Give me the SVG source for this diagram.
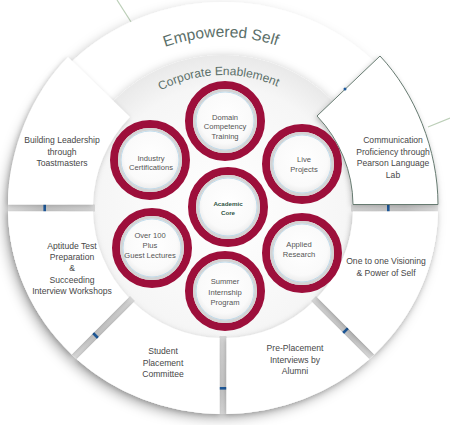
<svg xmlns="http://www.w3.org/2000/svg" xmlns:xlink="http://www.w3.org/1999/xlink" width="450" height="425" viewBox="0 0 450 425">
<style>
.seg{fill:#ffffff;filter:url(#segShadow)}
.segtxt{font-family:"Liberation Sans",Arial,sans-serif;font-size:8.6px;fill:#474747;text-anchor:middle}
.ctxt{font-family:"Liberation Sans",Arial,sans-serif;font-size:7.6px;fill:#555555;text-anchor:middle}
.ring{fill:none;stroke:#9d0f3b;stroke-width:8}
.disc{fill:url(#discGrad);stroke:#d3d3d3;stroke-width:2.6}
.blue{fill:none;stroke:#b4d6ea;stroke-width:0.8}
.gap{fill:url(#gapGrad)}
.mark{fill:#1e5a9c}
.arc{font-family:"Liberation Sans",Arial,sans-serif;fill:#5b6f69;text-anchor:middle}
</style>
<defs>
<filter id="bigShadow" x="-20%" y="-20%" width="140%" height="140%">
<feDropShadow dx="-4" dy="5" stdDeviation="6" flood-color="#000" flood-opacity="0.28"/>
</filter>
<filter id="segShadow" x="-20%" y="-20%" width="140%" height="140%">
<feDropShadow dx="-1" dy="1.5" stdDeviation="2.5" flood-color="#000" flood-opacity="0.22"/>
</filter>
<filter id="innerShadow" x="-20%" y="-20%" width="140%" height="140%">
<feDropShadow dx="0" dy="0" stdDeviation="4" flood-color="#000" flood-opacity="0.18"/>
</filter>
<radialGradient id="innerGrad" cx="0.5" cy="0.5" r="0.5">
<stop offset="0" stop-color="#ffffff"/>
<stop offset="0.8" stop-color="#f6f6f6"/>
<stop offset="1" stop-color="#e9e9e9"/>
</radialGradient>
<radialGradient id="discGrad" cx="0.5" cy="0.45" r="0.55">
<stop offset="0" stop-color="#ffffff"/>
<stop offset="0.75" stop-color="#fafafa"/>
<stop offset="1" stop-color="#e8e8e8"/>
</radialGradient>
<linearGradient id="gapGrad" x1="0" y1="0" x2="1" y2="0">
<stop offset="0" stop-color="#d6d6d6"/>
<stop offset="0.6" stop-color="#c6c6c6"/>
<stop offset="1" stop-color="#e2e2e2"/>
</linearGradient>
<clipPath id="outerClip">
<ellipse cx="223" cy="208" rx="215" ry="206"/>
</clipPath>
<path id="empArc" d="M 74.9,122.5 A 171 171 0 0 1 371.1,122.5"/>
<path id="corpArc" d="M 107.8,141.5 A 133 133 0 0 1 338.2,141.5"/>
</defs>

<rect x="0" y="0" width="450" height="425" fill="#ffffff"/>
<g id="background-lines" fill="none" stroke="#bccfb8" stroke-width="1.2">
<line x1="117" y1="0" x2="133" y2="25"/>
<line x1="428" y1="127" x2="450" y2="118"/>
</g>

<g id="outer-ring">
<ellipse cx="223" cy="208" rx="215" ry="206" fill="#ffffff" filter="url(#bigShadow)"/>
<text class="arc" font-size="15.5"><textPath xlink:href="#empArc" href="#empArc" startOffset="49.4%">Empowered Self</textPath></text>
</g>

<g id="corporate-enablement">
<circle cx="223" cy="208" r="153" fill="url(#innerGrad)" filter="url(#innerShadow)"/>
<text class="arc" font-size="12" fill="#5f7a73"><textPath xlink:href="#corpArc" href="#corpArc" startOffset="48.4%">Corporate Enablement</textPath></text>
</g>

<g id="connectors" clip-path="url(#outerClip)">
<g transform="translate(223,208) rotate(180)"><rect class="gap" x="128" y="-3.5" width="90" height="7"/><rect class="mark" x="177" y="-3.5" width="2.6" height="7"/></g>
<g transform="translate(223,208) rotate(135)"><rect class="gap" x="128" y="-3.5" width="90" height="7"/><rect class="mark" x="179" y="-3.5" width="2.6" height="7"/></g>
<g transform="translate(223,208) rotate(90)"><rect class="gap" x="128" y="-3.5" width="90" height="7"/><rect class="mark" x="179" y="-3.5" width="2.6" height="7"/></g>
<g transform="translate(223,208) rotate(45)"><rect class="gap" x="128" y="-3.5" width="90" height="7"/><rect class="mark" x="172" y="-3.5" width="2.6" height="7"/></g>
<g transform="translate(223,208) rotate(0)"><rect class="gap" x="128" y="-3.5" width="90" height="7"/><rect class="mark" x="164" y="-3.5" width="2.6" height="7"/></g>
</g>

<g id="seg-leadership">
<path class="seg" d="M 8,204.5 L 93,204.5 A 130 130 0 0 1 130,117 L 68,57 C 32,93 8,150 8,204.5 Z"/>
<text class="segtxt" x="62" y="143">Building  Leadership</text>
<text class="segtxt" x="62" y="154.5">through</text>
<text class="segtxt" x="62" y="166">Toastmasters</text>
</g>

<g id="seg-communication">
<path class="seg" d="M 438,204.5 L 353,204.5 A 130 130 0 0 0 317,116 L 380,56 C 415,93 438,150 438,204.5 Z" stroke="#667a70" stroke-width="1"/>
<circle cx="345" cy="89" r="1.5" fill="#1e5a9c"/>
<text class="segtxt" x="393" y="143">Communication</text>
<text class="segtxt" x="393" y="154.5">Proficiency through</text>
<text class="segtxt" x="393" y="166">Pearson Language</text>
<text class="segtxt" x="393" y="177.5">Lab</text>
</g>

<g id="seg-aptitude">
<path class="seg" d="M 8,211.5 L 93,211.5 A 130 130 0 0 0 128.6,297.5 L 71.8,354.2 A 215 206 0 0 1 8,211.5 Z"/>
<text class="segtxt" x="72" y="249">Aptitude Test</text>
<text class="segtxt" x="72" y="260">Preparation</text>
<text class="segtxt" x="72" y="271">&amp;</text>
<text class="segtxt" x="72" y="282.5">Succeeding</text>
<text class="segtxt" x="72" y="294">Interview Workshops</text>
</g>

<g id="seg-student">
<path class="seg" d="M 133.5,302.4 A 130 130 0 0 0 219.5,338 L 219.5,414 A 215 206 0 0 1 76.8,359.2 Z"/>
<text class="segtxt" x="163" y="354">Student</text>
<text class="segtxt" x="163" y="365.5">Placement</text>
<text class="segtxt" x="163" y="377">Committee</text>
</g>

<g id="seg-preplacement">
<path class="seg" d="M 226.5,338 A 130 130 0 0 0 312.5,302.4 L 369.2,359.2 A 215 206 0 0 1 226.5,414 Z"/>
<text class="segtxt" x="295" y="351">Pre-Placement</text>
<text class="segtxt" x="295" y="362.5">Interviews by</text>
<text class="segtxt" x="295" y="374">Alumni</text>
</g>

<g id="seg-visioning">
<path class="seg" d="M 317.4,297.5 A 130 130 0 0 0 353,211.5 L 438,211.5 A 215 206 0 0 1 374.2,354.2 Z"/>
<text class="segtxt" x="386" y="264">One to one Visioning</text>
<text class="segtxt" x="386" y="275.5">&amp; Power of Self</text>
</g>

<g id="circle-domain" transform="translate(225,121)">
<circle class="ring" r="36"/><circle class="disc" r="30.7"/><circle class="blue" r="29"/>
<text class="ctxt" x="0" y="-1.5">Domain</text>
<text class="ctxt" x="0" y="8">Competency</text>
<text class="ctxt" x="0" y="17.5">Training</text>
</g>

<g id="circle-industry" transform="translate(150,160)">
<circle class="ring" r="36"/><circle class="disc" r="30.7"/><circle class="blue" r="29"/>
<text class="ctxt" x="1" y="0.5">Industry</text>
<text class="ctxt" x="1" y="9.5">Certifications</text>
</g>

<g id="circle-live" transform="translate(302,164)">
<circle class="ring" r="36"/><circle class="disc" r="30.7"/><circle class="blue" r="29"/>
<text class="ctxt" x="2" y="-2.5">Live</text>
<text class="ctxt" x="2" y="7.5">Projects</text>
</g>

<g id="circle-academic" transform="translate(228,207)">
<circle class="ring" r="36"/><circle class="disc" r="30.7"/><circle class="blue" r="29"/>
<text x="0" y="-1" font-family="Liberation Sans,Arial,sans-serif" font-size="6.2" font-weight="bold" fill="#2f5444" text-anchor="middle">Academic</text>
<text x="0" y="7.5" font-family="Liberation Sans,Arial,sans-serif" font-size="6.2" font-weight="bold" fill="#2f5444" text-anchor="middle">Core</text>
</g>

<g id="circle-guest" transform="translate(152,248)">
<circle class="ring" r="36"/><circle class="disc" r="30.7"/><circle class="blue" r="29"/>
<text class="ctxt" x="-2" y="-10.5">Over 100</text>
<text class="ctxt" x="-2" y="-0.5">Plus</text>
<text class="ctxt" x="-2" y="9.5">Guest Lectures</text>
</g>

<g id="circle-research" transform="translate(302,253)">
<circle class="ring" r="36"/><circle class="disc" r="30.7"/><circle class="blue" r="29"/>
<text class="ctxt" x="-3" y="-6.5">Applied</text>
<text class="ctxt" x="-3" y="3.5">Research</text>
</g>

<g id="circle-internship" transform="translate(225,291)">
<circle class="ring" r="36"/><circle class="disc" r="30.7"/><circle class="blue" r="29"/>
<text class="ctxt" x="0" y="-7.5">Summer</text>
<text class="ctxt" x="0" y="3.5">Internship</text>
<text class="ctxt" x="0" y="13.5">Program</text>
</g>
</svg>
